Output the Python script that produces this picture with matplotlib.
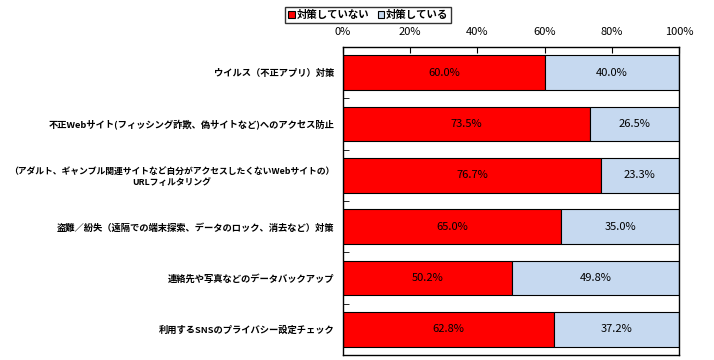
import matplotlib.pyplot as plt
import numpy as np

plt.rcParams['font.family'] = ['Noto Sans CJK JP', 'DejaVu Sans']

categories = [
    "ウイルス（不正アプリ）対策",
    "不正Webサイト(フィッシング詐欺、偽サイトなど)へのアクセス防止",
    "（アダルト、ギャンブル関連サイトなど自分がアクセスしたくないWebサイトの）\nURLフィルタリング",
    "盗難／紛失（遠隔での端末探索、データのロック、消去など）対策",
    "連絡先や写真などのデータバックアップ",
    "利用するSNSのプライバシー設定チェック",
]
not_done = [60.0, 73.5, 76.7, 65.0, 50.2, 62.8]
done = [40.0, 26.5, 23.3, 35.0, 49.8, 37.2]
series_names = ["対策していない", "対策している"]
xticks = [0, 20, 40, 60, 80, 100]

red = "#FF0000"
blue = "#C6D9F0"

fig = plt.figure(figsize=(7.14, 3.6), dpi=100)
ax = fig.add_axes([343/714, 1 - 355/360, 336/714, 308/360])

y = np.arange(len(categories))
h = 0.68
b1 = ax.barh(y, not_done, height=h, color=red, edgecolor="black", linewidth=0.8, label=series_names[0])
b2 = ax.barh(y, done, left=not_done, height=h, color=blue, edgecolor="black", linewidth=0.8, label=series_names[1])

for i in range(len(categories)):
    ax.text(not_done[i] / 2, y[i], f"{not_done[i]:.1f}%", ha="center", va="center", fontsize=8)
    ax.text(not_done[i] + done[i] / 2, y[i], f"{done[i]:.1f}%", ha="center", va="center", fontsize=8)

ax.set_xlim(0, 100)
ax.set_ylim(len(categories) - 0.5, -0.5)
ax.xaxis.tick_top()
ax.set_xticks(xticks)
ax.set_xticklabels([f"{t}%" for t in xticks], fontsize=8)
ax.tick_params(axis="x", direction="in", length=4, pad=7)

ax.set_yticks(y)
ax.set_yticklabels(categories, fontsize=6.7, fontweight="bold", multialignment="center")
ax.get_yticklabels()[2].set_fontsize(6.35)
ax.tick_params(axis="y", which="major", length=0, pad=6)
ax.set_yticks(np.arange(0.5, len(categories) - 0.5, 1), minor=True)
ax.tick_params(axis="y", which="minor", direction="in", length=4)

for s in ax.spines.values():
    s.set_linewidth(1)

leg = fig.legend(handles=[b1, b2], loc="upper left", bbox_to_anchor=(280/714, 1 - 2/360),
                 ncol=2, frameon=True, fancybox=False, edgecolor="black",
                 handlelength=0.6, handleheight=0.6, handletextpad=0.2, columnspacing=0.8,
                 borderpad=0.3, prop={"weight": "bold", "size": 7.5})
leg.get_frame().set_linewidth(1)

fig.savefig("out.png", dpi=100)
